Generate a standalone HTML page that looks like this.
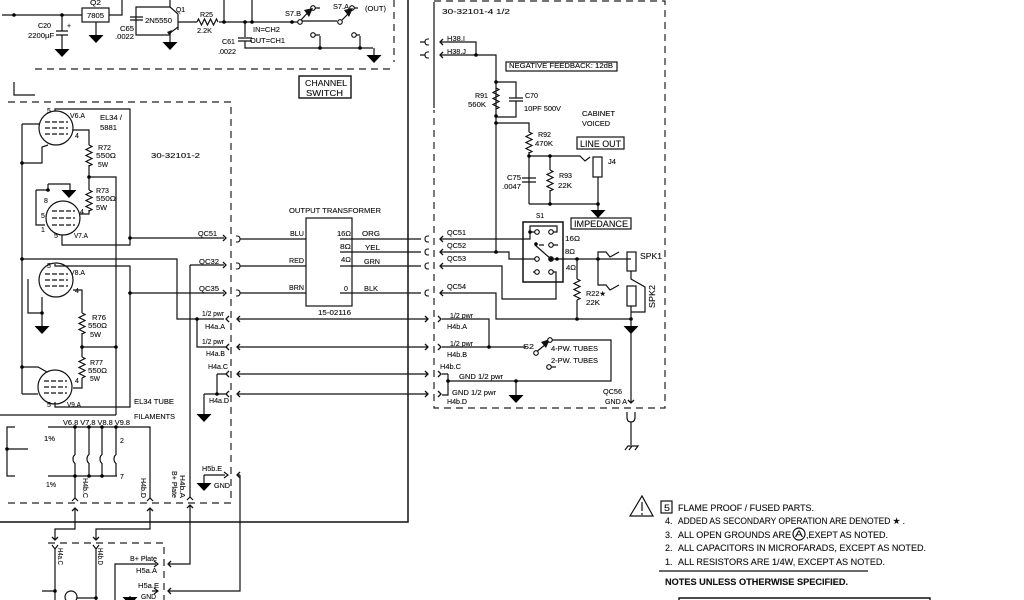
<!DOCTYPE html>
<html>
<head>
<meta charset="utf-8">
<style>
html,body{margin:0;padding:0;background:#fff;width:1024px;height:600px;overflow:hidden}
svg{display:block;filter:blur(.35px)}
text{font-family:"Liberation Sans",sans-serif;font-size:7px;fill:#111;stroke:#111;stroke-width:.12}
.w{fill:none;stroke:#111;stroke-width:1.2}
.d{fill:none;stroke:#222;stroke-width:1.2;stroke-dasharray:7 5}
.f{fill:#111}
.n text{font-size:9px}
</style>
</head>
<body>
<svg width="1024" height="600" viewBox="0 0 1024 600" xmlns="http://www.w3.org/2000/svg">
<defs>
<path id="g" d="M-7.5 0H7.5L0 8Z" fill="#000"/>
<circle id="o" r="1.8" fill="#000"/>
<circle id="c" r="2.3" fill="#fff" stroke="#111" stroke-width="1.1"/>
<path id="r" d="M0 0l3 1.5l-6 3l6 3l-6 3l6 3l-6 3l6 3l-3 1.5" fill="none" stroke="#111" stroke-width="1.2"/>
<path id="ar" d="M-3 -3L0 0L-3 3" fill="none" stroke="#111" stroke-width="1.3"/>
<path id="al" d="M3 -3L0 0L3 3" fill="none" stroke="#111" stroke-width="1.3"/>
<path id="cl" d="M0 -3H-1Q-4 -3 -4 0Q-4 3 -1 3H0" fill="none" stroke="#111" stroke-width="1.1"/>
<path id="cr" d="M0 -3H1Q4 -3 4 0Q4 3 1 3H0" fill="none" stroke="#111" stroke-width="1.1"/>
</defs>

<!-- dashed boxes -->
<path class="d" d="M35 69H395M394 0V62"/>
<path class="d" d="M8 102H231V503H8"/>
<path class="d" d="M48 543H164V600"/>
<path class="d" d="M434 1H665V408H434V110"/>
<path class="w" d="M434 2V108"/>

<!-- main frame -->
<path class="w" d="M408 0V522H0" style="stroke-width:1.5"/>
<path class="w" d="M14 82V95H35"/>

<!-- top section -->
<path class="w" d="M2 15H82M109 15H122V0M62 15V31M56 31H68M56 35H68M62 35V49M96 22V35"/>
<rect class="w" x="82" y="8" width="27" height="14"/>
<use href="#o" x="14" y="15"/><use href="#o" x="62" y="15"/>
<use href="#g" x="62" y="49"/><use href="#g" x="96" y="35"/>
<path class="w" d="M170 0V7L178 14M178 14V30M178 27L170 33V42M178 22H197M170 7H136V35H170M130 17H143M130 20H143M219 22H300"/>
<use href="#g" x="170" y="42"/>
<path d="M172 30l-5 2l3 4z" class="f"/>
<use href="#r" transform="translate(197 22) rotate(-90)"/>
<path class="w" d="M224 0V22M252 0V22M245 22V37M238 38H252M238 41H252M245 41V48H373M320 36V48M360 36V48M374 48V55"/>
<use href="#o" x="224" y="22"/><use href="#o" x="245" y="22"/><use href="#o" x="252" y="22"/><use href="#o" x="292" y="22"/><use href="#o" x="320" y="48"/><use href="#o" x="360" y="48"/>
<use href="#g" x="374" y="55"/>
<path class="w" d="M302 21H337M301 20L312 8M342 20L352 10M315 8H320M353 8H358"/>
<use href="#c" x="300" y="22"/><use href="#c" x="340" y="22"/><use href="#c" x="313" y="8"/><use href="#c" x="352" y="8"/><use href="#c" x="313" y="35"/><use href="#c" x="354" y="35"/>
<path class="f" d="M304 10l9 -2l-4 9z M344 10l9 -2l-4 9z"/>
<path class="w" d="M315 35H320M356 35H360"/>
<rect class="w" x="299" y="76" width="52" height="22" style="stroke-width:1.4"/>

<!-- tubes -->
<g class="w" style="fill:#fff">
<circle cx="56" cy="128" r="17"/><circle cx="63" cy="218" r="17"/><circle cx="56" cy="280" r="17"/><circle cx="55" cy="387" r="17"/>
</g>
<path class="w" stroke-dasharray="5 2" d="M45 122H68M45 128H68M45 134H68M52 211H75M52 218H75M52 225H75M45 274H68M45 280H68M45 286H68M44 381H67M44 387H67M44 393H67"/>
<path class="w" d="M22 124V394M22 124H40M22 163H42V147L48 145M55 111V109H130V245H62V235M130 238H224M73 130H89V145M89 165V190M89 177H116V415M89 210V214H80M48 184V190M48 184H70V192M36 190H48M36 190V225H45"/>
<use href="#g" x="69" y="190"/>
<use href="#r" x="89" y="145"/><use href="#r" x="89" y="190"/>
<use href="#o" x="22" y="163"/><use href="#o" x="89" y="177"/><use href="#o" x="48" y="190"/><use href="#o" x="130" y="238"/>
<path class="w" d="M22 259H177V319H224M55 264V266H130V407H55V402M130 293H224M190 265H224M190 265V497M28 279V313H42V297M42 313V326M73 290H82V313M82 333V357M82 347H116M82 378V388H73M22 367H38L47 372M22 394H38M0 415H116"/>
<use href="#g" x="42" y="326"/>
<use href="#r" x="82" y="313"/><use href="#r" x="82" y="357"/>
<use href="#o" x="22" y="259"/><use href="#o" x="130" y="293"/><use href="#o" x="42" y="313"/><use href="#o" x="82" y="347"/><use href="#o" x="116" y="347"/><use href="#o" x="22" y="367"/>

<!-- filaments -->
<path class="w" d="M15 427H7V476H15M7 449H28M48 427H150V498M48 476H117M75 427V455M75 463V498M89 427V455M89 463V476M102 427V455M102 463V476M116 427V455M116 463V476M75 476V498"/>
<path class="w" d="M75 455a2 4 0 0 0 0 8M89 455a2 4 0 0 0 0 8M102 455a2 4 0 0 0 0 8M116 455a2 4 0 0 0 0 8"/>
<use href="#o" x="7" y="449"/><use href="#o" x="75" y="427"/><use href="#o" x="89" y="427"/><use href="#o" x="102" y="427"/><use href="#o" x="116" y="427"/>
<use href="#o" x="75" y="476"/><use href="#o" x="89" y="476"/><use href="#o" x="102" y="476"/>
<path class="w" d="M72 501L75 498L78 501M147 501L150 498L153 501M187 500L190 497L193 500"/>
<path class="w" d="M75 508V529H55V540M150 508V529H96V540M190 505V564H168M240 475V591H168"/>
<use href="#ar" transform="translate(75 508) rotate(-90)"/><use href="#ar" transform="translate(150 508) rotate(-90)"/><use href="#ar" transform="translate(190 505) rotate(-90)"/>
<use href="#ar" transform="translate(55 540) rotate(90)"/><use href="#ar" transform="translate(96 540) rotate(90)"/>
<use href="#al" x="168" y="564"/><use href="#al" x="168" y="591"/><use href="#al" x="237" y="475"/>
<path class="w" d="M240 475H237M204 475H225M204 475V483M224 472L228 475L224 478"/>
<use href="#g" x="204" y="483"/>
<path class="w" d="M52 545L55 549L58 545M93 545L96 549L99 545M55 549V600M96 549V600M42 591H55M77 598H96M115 600V564H156M154 561L158 564L154 567M130 600V596M154 588L158 591L154 594M152 591H158"/>
<use href="#o" x="55" y="591"/><use href="#o" x="96" y="598"/>
<circle class="w" cx="71" cy="597" r="6"/>
<use href="#g" x="130" y="597"/>

<!-- left connector row -->
<use href="#ar" x="226" y="238"/><use href="#ar" x="226" y="265"/><use href="#ar" x="226" y="293"/>
<use href="#cr" x="236" y="239"/><use href="#cr" x="236" y="266"/><use href="#cr" x="236" y="293"/>
<path class="w" d="M240 239H306M240 266H306M240 293H306"/>
<rect class="w" x="306" y="218" width="46" height="88"/>
<path class="w" d="M340 239H421M340 252H421M340 266H421M340 293H421"/>
<use href="#cl" x="429" y="239"/><use href="#cl" x="429" y="252"/><use href="#cl" x="429" y="266"/><use href="#cl" x="429" y="293"/>

<!-- bidirectional rows -->
<path class="w" d="M197 319V347H226M217 374H226M217 374V394M204 394H226M204 394V414M238 319H428M238 347H428M238 374H428M238 394H428"/>
<use href="#o" x="197" y="319"/><use href="#o" x="217" y="394"/>
<use href="#g" x="204" y="414"/>
<g><use href="#al" x="226" y="319"/><use href="#al" x="226" y="347"/><use href="#al" x="226" y="374"/><use href="#al" x="226" y="394"/>
<use href="#al" x="237" y="319"/><use href="#al" x="237" y="347"/><use href="#al" x="237" y="374"/><use href="#al" x="237" y="394"/>
<use href="#ar" x="428" y="319"/><use href="#ar" x="428" y="347"/><use href="#ar" x="428" y="374"/><use href="#ar" x="428" y="394"/>
<use href="#ar" x="441" y="319"/><use href="#ar" x="441" y="347"/><use href="#ar" x="441" y="374"/><use href="#ar" x="441" y="394"/></g>

<!-- right box -->
<path class="w" d="M420 42H425M420 55H425M440 42H476V55M440 55H496V252M496 82H516V98M509 98H523M509 101H523M516 101V117H496M496 123H529V132M529 152V204M529 156H580L585 161L590 157M522 178H536M522 182H536M550 156V170M550 190V204M529 204H598M598 177V210"/>
<use href="#cl" x="429" y="42"/><use href="#cl" x="429" y="55"/><use href="#al" x="440" y="42"/><use href="#al" x="440" y="55"/>
<use href="#r" x="496" y="88"/><use href="#r" x="529" y="132"/><use href="#r" x="550" y="170"/>
<use href="#o" x="476" y="55"/><use href="#o" x="496" y="82"/><use href="#o" x="496" y="116"/><use href="#o" x="496" y="123"/><use href="#o" x="529" y="156"/><use href="#o" x="550" y="156"/><use href="#o" x="550" y="204"/><use href="#o" x="598" y="204"/>
<rect class="w" x="593" y="157" width="9" height="20"/>
<use href="#g" x="598" y="210"/>
<rect class="w" x="506" y="62" width="111" height="9"/>
<rect class="w" x="577" y="137" width="47" height="12"/>
<rect class="w" x="571" y="218" width="60" height="11"/>

<!-- S1 -->
<rect class="w" x="523" y="222" width="40" height="60" style="stroke-width:1.5"/>
<path class="w" d="M530 232V226H557V232H553M440 239H530V232H535M440 252H509V259H535M440 266H502V299H556V272H553M440 293H496V319H631M535 245L551 259M551 259H631M539 245H544M539 272H533M553 245H558"/>
<use href="#al" x="440" y="239"/><use href="#al" x="440" y="252"/><use href="#al" x="440" y="266"/><use href="#al" x="440" y="293"/>
<use href="#c" x="537" y="232"/><use href="#c" x="551" y="232"/><use href="#c" x="551" y="245"/><use href="#c" x="537" y="259"/><use href="#c" x="551" y="259"/><use href="#c" x="537" y="272"/><use href="#c" x="551" y="272"/>
<use href="#o" x="530" y="232"/><use href="#o" x="536" y="244"/><use href="#o" x="551" y="259"/><use href="#o" x="557" y="259"/><use href="#o" x="577" y="259"/><use href="#o" x="598" y="259"/><use href="#o" x="496" y="252"/><use href="#o" x="577" y="319"/><use href="#o" x="631" y="319"/>
<path class="w" d="M598 259V252H606L610 257L619 252M598 259V285H606L610 290L619 285M577 259V279M577 300V319M631 271V279L645 287V312H631M631 306V326M631 333V402"/>
<use href="#r" x="577" y="279"/>
<rect class="w" x="627" y="252" width="9" height="19"/>
<rect class="w" x="627" y="286" width="9" height="20"/>
<use href="#g" x="631" y="326"/>
<use href="#ar" transform="translate(631 403) rotate(90)"/>
<path class="w" d="M627 412V417Q627 422 631 422Q635 422 635 417V412M631 422V445M625 450L628 446H638L635 450M629 450L632 446"/>

<!-- lower right -->
<path class="w" d="M442 319H489V347M442 347H526M535 353L551 340M552 340H611V381H448M448 374V395H442M442 374H448M516 381V395"/>
<use href="#o" x="489" y="347"/><use href="#o" x="448" y="381"/><use href="#o" x="516" y="381"/>
<use href="#g" x="516" y="395"/>
<path class="f" d="M541 342l9 -3l-4 9z"/>
<use href="#c" x="536" y="353"/><use href="#c" x="550" y="340"/><use href="#c" x="549" y="367"/>
<path class="w" d="M551 367H556"/>

<!-- labels -->
<g>
<text x="90" y="5" textLength="11">Q2</text><text x="87" y="18" textLength="17">7805</text>
<text x="38" y="28" textLength="13">C20</text><text x="28" y="38" textLength="26">2200µF</text><text x="67" y="28">+</text>
<text x="120" y="31" textLength="14">C65</text><text x="115" y="39" textLength="19">.0022</text>
<text x="145" y="23" textLength="27">2N5550</text><text x="176" y="12" textLength="9">Q1</text>
<text x="200" y="17" textLength="13">R25</text><text x="197" y="33" textLength="15">2.2K</text>
<text x="253" y="32" textLength="27">IN=CH2</text><text x="250" y="43" textLength="35">OUT=CH1</text>
<text x="222" y="44" textLength="13">C61</text><text x="218" y="54" textLength="18">.0022</text>
<text x="285" y="16" textLength="16">S7.B</text><text x="333" y="9" textLength="16">S7.A</text><text x="365" y="11" textLength="21">(OUT)</text>
<text x="305" y="86" textLength="42" style="font-size:8.5px">CHANNEL</text><text x="306" y="96" textLength="37" style="font-size:8.5px">SWITCH</text>

<text x="70" y="118" textLength="15">V6.A</text><text x="100" y="120" textLength="22">EL34 /</text><text x="100" y="130" textLength="17">5881</text>
<text x="47" y="113">5</text><text x="75" y="138">4</text>
<text x="98" y="150" textLength="13">R72</text><text x="96" y="158" textLength="20">550Ω</text><text x="98" y="167" textLength="10">5W</text>
<text x="151" y="158" textLength="49">30-32101-2</text>
<text x="96" y="193" textLength="13">R73</text><text x="96" y="201" textLength="20">550Ω</text><text x="96" y="210" textLength="11">5W</text>
<text x="44" y="203">8</text><text x="41" y="218">5</text><text x="41" y="232">1</text><text x="80" y="214">4</text><text x="54" y="238">5</text>
<text x="74" y="238" textLength="14">V7.A</text>
<text x="198" y="236" textLength="19">QC51</text><text x="199" y="264" textLength="20">QC32</text><text x="199" y="291" textLength="20">QC35</text>
<text x="70" y="275" textLength="15">V8.A</text><text x="47" y="268">5</text><text x="75" y="293">4</text>
<text x="92" y="320" textLength="14">R76</text><text x="88" y="328" textLength="19">550Ω</text><text x="90" y="337" textLength="11">5W</text>
<text x="90" y="365" textLength="13">R77</text><text x="88" y="373" textLength="19">550Ω</text><text x="90" y="381" textLength="10">5W</text>
<text x="47" y="407">5</text><text x="75" y="383">4</text><text x="67" y="407" textLength="14">V9.A</text>
<text x="134" y="404" textLength="40">EL34 TUBE</text><text x="134" y="419" textLength="41">FILAMENTS</text>
<text x="63" y="425" textLength="67">V6.8 V7.8 V8.8 V9.8</text>
<text x="44" y="441" textLength="11">1%</text><text x="120" y="443">2</text><text x="120" y="479">7</text><text x="46" y="487" textLength="10">1%</text>

<text transform="translate(83 478) rotate(90)" textLength="20">H4b.C</text>
<text transform="translate(141 478) rotate(90)" textLength="20">H4b.D</text>
<text transform="translate(180 475) rotate(90)" textLength="23">H4b.A</text>
<text transform="translate(172 471) rotate(90)" textLength="27">B+ Plate</text>
<text x="202" y="471" textLength="20">H5b.E</text><text x="214" y="488" textLength="16">GND</text>
<text transform="translate(58 548) rotate(90)" textLength="17">H4a.C</text>
<text transform="translate(98 548) rotate(90)" textLength="17">H4b.D</text>
<text x="130" y="561" textLength="27">B+ Plate</text><text x="136" y="573" textLength="21">H5a.A</text>
<text x="138" y="588" textLength="21">H5a.E</text><text x="141" y="599" textLength="15">GND</text>

<text x="289" y="213" textLength="92">OUTPUT TRANSFORMER</text>
<text x="290" y="236" textLength="14">BLU</text><text x="289" y="263" textLength="15">RED</text><text x="289" y="290" textLength="15">BRN</text>
<text x="337" y="236" textLength="14">16Ω</text><text x="340" y="249" textLength="11">8Ω</text><text x="341" y="262" textLength="10">4Ω</text><text x="344" y="291">0</text>
<text x="362" y="236" textLength="18">ORG</text><text x="365" y="250" textLength="15">YEL</text><text x="364" y="264" textLength="16">GRN</text><text x="364" y="291" textLength="14">BLK</text>
<text x="318" y="315" textLength="33">15-02116</text>
<text x="202" y="316" textLength="22">1/2 pwr</text><text x="205" y="329" textLength="20">H4a.A</text>
<text x="202" y="344" textLength="22">1/2 pwr</text><text x="206" y="356" textLength="19">H4a.B</text>
<text x="208" y="369" textLength="20">H4a.C</text><text x="209" y="403" textLength="20">H4a.D</text>

<text x="442" y="14" textLength="68">30-32101-4   1/2</text>
<text x="447" y="41" textLength="18">H38.I</text><text x="447" y="54" textLength="19">H38.J</text>
<text x="509" y="68" textLength="104">NEGATIVE FEEDBACK: 12dB</text>
<text x="475" y="98" textLength="13">R91</text><text x="468" y="107" textLength="18">560K</text>
<text x="525" y="98" textLength="13">C70</text><text x="524" y="111" textLength="37">10PF 500V</text>
<text x="582" y="116" textLength="33">CABINET</text><text x="582" y="126" textLength="28">VOICED</text>
<text x="538" y="137" textLength="13">R92</text><text x="535" y="146" textLength="18">470K</text>
<text x="580" y="147" textLength="41" style="font-size:9.5px">LINE OUT</text><text x="608" y="164" textLength="8">J4</text>
<text x="507" y="180" textLength="14">C75</text><text x="502" y="189" textLength="19">.0047</text>
<text x="559" y="178" textLength="13">R93</text><text x="558" y="188" textLength="14">22K</text>
<text x="574" y="227" textLength="54" style="font-size:9.5px">IMPEDANCE</text>
<text x="536" y="218" textLength="8">S1</text>
<text x="447" y="235" textLength="19">QC51</text><text x="447" y="248" textLength="19">QC52</text><text x="447" y="261" textLength="19">QC53</text><text x="447" y="289" textLength="19">QC54</text>
<text x="565" y="241" textLength="15">16Ω</text><text x="565" y="254" textLength="10">8Ω</text><text x="566" y="270" textLength="10">4Ω</text>
<text x="640" y="259" textLength="22" style="font-size:8.5px">SPK1</text>
<text transform="translate(655 308) rotate(-90)" textLength="23" style="font-size:8.5px">SPK2</text>
<text x="586" y="296" textLength="20">R22★</text><text x="586" y="305" textLength="14">22K</text>
<text x="450" y="318" textLength="23">1/2 pwr</text><text x="447" y="329" textLength="20">H4b.A</text>
<text x="450" y="346" textLength="23">1/2 pwr</text><text x="447" y="357" textLength="20">H4b.B</text>
<text x="440" y="369" textLength="21">H4b.C</text><text x="459" y="379" textLength="44">GND 1/2 pwr</text>
<text x="452" y="395" textLength="44">GND 1/2 pwr</text><text x="447" y="404" textLength="20">H4b.D</text>
<text x="523" y="349" textLength="11">S2</text>
<text x="551" y="351" textLength="47">4-PW. TUBES</text><text x="551" y="363" textLength="47">2-PW. TUBES</text>
<text x="603" y="394" textLength="19">QC56</text><text x="605" y="404" textLength="22">GND A</text>
</g>

<!-- notes -->
<g class="n">
<path class="w" d="M630 516L642 496L653 516Z"/><path class="w" d="M642 502V511M642 513V515"/>
<rect class="w" x="661" y="501" width="11" height="12"/>
<text x="664" y="511" textLength="6">5</text>
<text x="678" y="511" textLength="136">FLAME PROOF / FUSED PARTS.</text>
<text x="665" y="524">4.</text><text x="678" y="524" textLength="227">ADDED AS SECONDARY OPERATION ARE DENOTED ★ .</text>
<text x="665" y="538">3.</text><text x="678" y="538" textLength="113">ALL OPEN GROUNDS ARE</text>
<circle class="w" cx="799" cy="534" r="6"/><text x="795" y="537" textLength="8">A</text>
<text x="806" y="538" textLength="82">,EXEPT AS NOTED.</text>
<text x="665" y="551">2.</text><text x="678" y="551" textLength="248">ALL CAPACITORS IN MICROFARADS, EXCEPT AS NOTED.</text>
<text x="665" y="565">1.</text><text x="678" y="565" textLength="207">ALL RESISTORS ARE 1/4W, EXCEPT AS NOTED.</text>
<path class="w" d="M659 571H868"/>
<text x="665" y="585" textLength="183" font-weight="bold">NOTES UNLESS OTHERWISE SPECIFIED.</text>
<path class="w" d="M679 600V598H930V600" style="stroke-width:1.4"/>
</g>
</svg>
<script>
document.querySelectorAll('text[textLength]').forEach(function(t){t.setAttribute('lengthAdjust','spacingAndGlyphs')});
</script>
</body>
</html>
